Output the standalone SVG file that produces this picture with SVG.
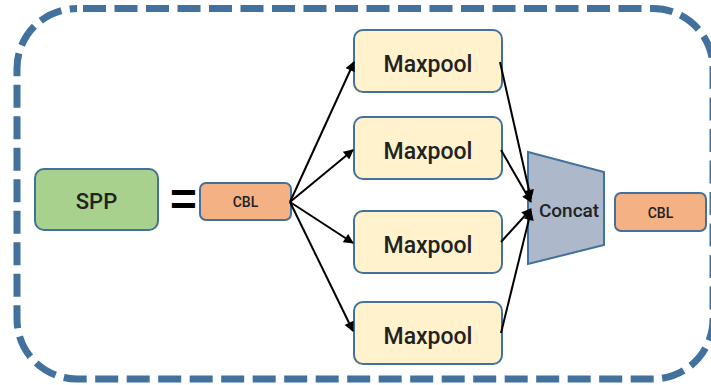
<svg xmlns="http://www.w3.org/2000/svg" width="711" height="385" viewBox="0 0 711 385">
  <style>
    .frame { fill: none; stroke: #41719c; stroke-width: 7; stroke-dasharray: 23 8.5; stroke-dashoffset: 25.5; }
    .box { stroke: #41719c; stroke-width: 2; }
    .spp { fill: #a9d18e; }
    .cbl { fill: #f4b183; }
    .pool { fill: #fff2cc; }
    .concat { fill: #adb9ca; }
    .lbl { font-family: Roboto, "Liberation Sans", sans-serif; font-weight: 500; fill: #222; text-anchor: middle; }
    .edge { fill: none; stroke: #000; stroke-width: 2; marker-end: url(#arrow); }
  </style>
  <defs>
    <marker id="arrow" viewBox="0 0 10 10" refX="9" refY="5" markerWidth="6" markerHeight="5" markerUnits="strokeWidth" orient="auto">
      <path d="M0,0 L10,5 L0,10 z" fill="#000"/>
    </marker>
  </defs>

  <rect class="frame" x="17" y="8.5" width="696" height="370.5" rx="60" ry="60"/>

  <g id="spp">
    <rect class="box spp" x="35" y="169" width="123" height="61" rx="9"/>
    <text class="lbl" x="96.5" y="209" font-size="22">SPP</text>
  </g>

  <g id="equals">
    <text x="183.5" y="215" font-family="'Liberation Sans', sans-serif" font-weight="bold" font-size="46" text-anchor="middle" fill="#000">=</text>
  </g>

  <g id="cbl-in">
    <rect class="box cbl" x="200" y="183" width="91" height="37" rx="6"/>
    <text class="lbl" x="245.5" y="206.5" font-size="14">CBL</text>
  </g>

  <g id="maxpool-1">
    <rect class="box pool" x="354" y="30" width="148" height="62" rx="9"/>
    <text class="lbl" x="428" y="71.5" font-size="23">Maxpool</text>
  </g>
  <g id="maxpool-2">
    <rect class="box pool" x="354" y="117" width="148" height="62" rx="9"/>
    <text class="lbl" x="428" y="158.5" font-size="23">Maxpool</text>
  </g>
  <g id="maxpool-3">
    <rect class="box pool" x="354" y="211" width="148" height="62" rx="9"/>
    <text class="lbl" x="428" y="252.5" font-size="23">Maxpool</text>
  </g>
  <g id="maxpool-4">
    <rect class="box pool" x="354" y="302" width="148" height="62" rx="9"/>
    <text class="lbl" x="428" y="343.5" font-size="23">Maxpool</text>
  </g>

  <g id="concat">
    <polygon class="box concat" points="528,152 604,172 604,245 528,264"/>
    <text class="lbl" x="569" y="217" font-size="19">Concat</text>
  </g>

  <g id="cbl-out">
    <rect class="box cbl" x="615" y="193" width="91" height="38" rx="6"/>
    <text class="lbl" x="660.5" y="217.5" font-size="14">CBL</text>
  </g>

  <g id="connectors">
    <line class="edge" x1="290" y1="202" x2="354" y2="62"/>
    <line class="edge" x1="290" y1="202" x2="353" y2="150"/>
    <line class="edge" x1="290" y1="202" x2="353" y2="243"/>
    <line class="edge" x1="290" y1="202" x2="353" y2="331"/>
    <line class="edge" x1="500" y1="62" x2="531" y2="199"/>
    <line class="edge" x1="501" y1="150" x2="531" y2="202"/>
    <line class="edge" x1="501" y1="242" x2="531" y2="209"/>
    <line class="edge" x1="501" y1="333" x2="531" y2="211"/>
  </g>
</svg>
